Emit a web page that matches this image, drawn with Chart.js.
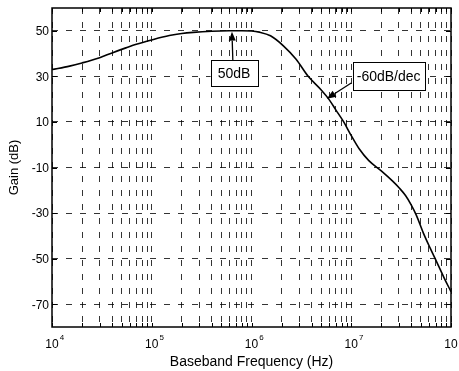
<!DOCTYPE html>
<html>
<head>
<meta charset="utf-8">
<script src="https://cdn.jsdelivr.net/npm/chart.js@4.4.1/dist/chart.umd.min.js"></script>
<style>
html,body{margin:0;padding:0;background:#fff;}
#wrap{width:459px;height:371px;position:relative;}
</style>
</head>
<body>
<div id="wrap"><canvas id="c" width="459" height="371"></canvas></div>
<script>
// ---- data ----
const freqs = [1e4, 1.5e4, 2e4, 3e4, 4e4, 5.5e4, 7e4, 1e5, 1.5e5, 2e5, 2.6e5, 4e5, 6e5, 8e5, 1e6, 1.2e6, 1.55e6, 2.1e6, 2.8e6, 3.7e6, 5e6, 6e6, 7e6, 8.4e6, 1e7, 1.2e7, 1.5e7, 2e7, 2.6e7, 3e7, 3.5e7, 4e7, 4.5e7, 5.3e7, 6.2e7, 7.2e7, 8.5e7, 1e8];
const gains = [33.0, 34.5, 35.9, 38.2, 40.3, 42.5, 44.1, 46.0, 47.9, 48.8, 49.3, 49.8, 50.0, 50.0, 49.9, 49.4, 47.8, 43.3, 37.5, 30.0, 24.0, 19.8, 15.3, 10.0, 4.0, -1.8, -7.0, -11.5, -16.0, -18.8, -22.3, -26.5, -31.0, -38.9, -45.5, -51.5, -58.3, -64.5];
const xDecades = [4, 5, 6, 7, 8];
const yTicks = [50, 30, 10, -10, -30, -50, -70];
const xLabel = 'Baseband Frequency (Hz)';
const yLabel = 'Gain (dB)';
const notes = [
  {text: '50dB', cx: 6.68e5, cy: 31.3, tipX: 6.37e5, tipY: 49.6, fromX: 6.5e5, fromY: null, padX: 7, h: 26},
  {text: '-60dB/dec', cx: 2.37e7, cy: 30, tipX: 5.7e6, tipY: 20.2, fromX: 1.0e7, fromY: 27.1, padX: 4, h: 28}
];

const xTickVals = [];
for (let i = 0; i < xDecades.length; i++) {
  const d = Math.pow(10, xDecades[i]);
  if (i === xDecades.length - 1) { xTickVals.push(d); break; }
  for (let m = 1; m <= 9; m++) xTickVals.push(m * d);
}
const FONT = "'Liberation Sans', Arial, sans-serif";

const drawPlugin = {
  id: 'custom',
  afterDatasetsDraw(chart) {
    const ctx = chart.ctx, xs = chart.scales.x, ys = chart.scales.y;
    ctx.save();
    ctx.font = '14px ' + FONT;
    notes.forEach(n => {
      const w = ctx.measureText(n.text).width + 2 * n.padX;
      const cx = xs.getPixelForValue(n.cx), cy = ys.getPixelForValue(n.cy);
      const bx = cx - w / 2, by = cy - n.h / 2;
      let sx, sy;
      if (n.fromY === null) { sx = xs.getPixelForValue(n.fromX); sy = by; }
      else { sx = xs.getPixelForValue(n.fromX); sy = ys.getPixelForValue(n.fromY); }
      const tx = xs.getPixelForValue(n.tipX), ty = ys.getPixelForValue(n.tipY);
      const ang = Math.atan2(ty - sy, tx - sx);
      const L = 9, W = 3.5;
      const bxp = tx - L * Math.cos(ang), byp = ty - L * Math.sin(ang);
      ctx.strokeStyle = '#000'; ctx.lineWidth = 1.3;
      ctx.beginPath(); ctx.moveTo(sx, sy); ctx.lineTo(bxp, byp); ctx.stroke();
      ctx.fillStyle = '#000';
      ctx.beginPath();
      ctx.moveTo(tx, ty);
      ctx.lineTo(bxp + W * Math.sin(ang), byp - W * Math.cos(ang));
      ctx.lineTo(bxp - W * Math.sin(ang), byp + W * Math.cos(ang));
      ctx.closePath(); ctx.fill();
      ctx.fillStyle = '#fff';
      ctx.fillRect(bx, by, w, n.h);
      ctx.lineWidth = 1;
      ctx.strokeRect(Math.round(bx) + 0.5, Math.round(by) + 0.5, Math.round(w), Math.round(n.h));
      ctx.fillStyle = '#000';
      ctx.textAlign = 'center'; ctx.textBaseline = 'middle';
      ctx.fillText(n.text, cx, cy + 1);
    });
    ctx.restore();
  },
  afterDraw(chart) {
    const ctx = chart.ctx, xs = chart.scales.x, ys = chart.scales.y;
    const a = chart.chartArea;
    ctx.save();
    ctx.strokeStyle = '#000'; ctx.lineWidth = 1;
    xTickVals.forEach(v => {
      const px = Math.round(xs.getPixelForValue(v)) + 0.5;
      const len = 4;
      ctx.beginPath();
      ctx.moveTo(px, a.bottom); ctx.lineTo(px, a.bottom - len);
      ctx.moveTo(px, a.top); ctx.lineTo(px, a.top + len);
      ctx.stroke();
    });
    yTicks.forEach(v => {
      const py = Math.round(ys.getPixelForValue(v)) + 0.5;
      ctx.beginPath();
      ctx.moveTo(a.left, py); ctx.lineTo(a.left + 5, py);
      ctx.moveTo(a.right, py); ctx.lineTo(a.right - 5, py);
      ctx.stroke();
    });
    ctx.lineWidth = 1.5;
    ctx.strokeRect(a.left, a.top, a.right - a.left, a.bottom - a.top);
    ctx.fillStyle = '#000';
    ctx.font = '12px ' + FONT;
    ctx.textAlign = 'right'; ctx.textBaseline = 'middle';
    yTicks.forEach(v => {
      ctx.fillText(String(v), a.left - 3, ys.getPixelForValue(v) + 1);
    });
    xDecades.forEach(d => {
      const px = xs.getPixelForValue(Math.pow(10, d));
      ctx.font = '12px ' + FONT;
      ctx.textAlign = 'center'; ctx.textBaseline = 'alphabetic';
      ctx.fillText('10', px, a.bottom + 21);
      const w = ctx.measureText('10').width;
      ctx.font = '8px ' + FONT;
      ctx.textAlign = 'left';
      ctx.fillText(String(d), px + w / 2 + 1, a.bottom + 13);
    });
    ctx.font = '14px ' + FONT;
    ctx.textAlign = 'center'; ctx.textBaseline = 'alphabetic';
    ctx.fillText(xLabel, (a.left + a.right) / 2, 366);
    ctx.save();
    ctx.translate(18, (a.top + a.bottom) / 2);
    ctx.rotate(-Math.PI / 2);
    ctx.font = '13px ' + FONT;
    ctx.textBaseline = 'alphabetic';
    ctx.fillText(yLabel, 0, 0);
    ctx.restore();
    ctx.restore();
  }
};

const gridCommon = {color: '#000', lineWidth: 0.8, drawTicks: false, borderDash: [6, 8]};
new Chart(document.getElementById('c'), {
  type: 'line',
  data: {
    datasets: [{
      data: freqs.map((f, i) => ({x: f, y: gains[i]})),
      borderColor: '#000',
      borderWidth: 1.6,
      pointRadius: 0,
      fill: false,
      cubicInterpolationMode: 'monotone'
    }]
  },
  options: {
    responsive: false,
    animation: false,
    devicePixelRatio: 1,
    layout: {padding: {top: 8, right: 8, left: 0, bottom: 0}},
    plugins: {legend: {display: false}, tooltip: {enabled: false}},
    scales: {
      x: {
        type: 'logarithmic', min: 1e4, max: 1e8,
        afterBuildTicks: s => { s.ticks = xTickVals.map(v => ({value: v})); },
        afterFit: s => { s.height = 44; },
        ticks: {display: false},
        grid: gridCommon,
        border: {display: false, dash: [6, 8]}
      },
      y: {
        min: -80, max: 60,
        afterBuildTicks: s => { s.ticks = yTicks.map(v => ({value: v})); },
        afterFit: s => { s.width = 52; },
        ticks: {display: false},
        grid: gridCommon,
        border: {display: false, dash: [6, 8]}
      }
    }
  },
  plugins: [drawPlugin]
});
</script>
</body>
</html>
